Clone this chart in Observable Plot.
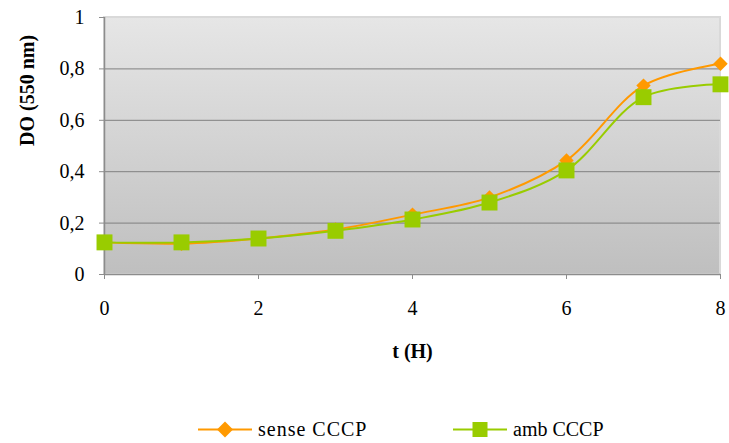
<!DOCTYPE html>
<html><head><meta charset="utf-8">
<script src="https://cdn.jsdelivr.net/npm/d3@7"></script>
<script src="https://cdn.jsdelivr.net/npm/@observablehq/plot@0.6"></script>
</head>
<body style="margin:0;background:#fff;font-family:'Times New Roman'">
<div id="chart"></div>
<div id="legend" style="position:relative;height:43px;width:729px;font-family:'Times New Roman'"></div>
<script>
const hours = [0, 1, 2, 3, 4, 5, 6, 7, 8];
const senseCCCP = [0.125, 0.12, 0.14, 0.175, 0.233, 0.30, 0.444, 0.735, 0.82];
const ambCCCP = [0.125, 0.125, 0.14, 0.17, 0.214, 0.28, 0.405, 0.69, 0.74];
const seriesNames = ["sense CCCP", "amb CCCP"];
const yTicks = [0, 0.2, 0.4, 0.6, 0.8, 1];
const xTicks = [0, 2, 4, 6, 8];
const yTitle = ["DO (550 nm)"];
const xTitle = ["t (H)"];

const FONT = "Times New Roman";
const colors = {"sense CCCP": "#ff9900", "amb CCCP": "#99cc00"};
const sense = hours.map((t, i) => ({t, v: senseCCCP[i], s: seriesNames[0]}));
const amb = hours.map((t, i) => ({t, v: ambCCCP[i], s: seriesNames[1]}));

const background = (index, scales, values, dims) => {
  const ns = "http://www.w3.org/2000/svg";
  const g = document.createElementNS(ns, "g");
  const defs = document.createElementNS(ns, "defs");
  const lg = document.createElementNS(ns, "linearGradient");
  lg.setAttribute("id", "bg"); lg.setAttribute("x1", "0"); lg.setAttribute("y1", "0");
  lg.setAttribute("x2", "0"); lg.setAttribute("y2", "1");
  [["0", "#e6e6e6"], ["1", "#bfbfbf"]].forEach(([o, c]) => {
    const s = document.createElementNS(ns, "stop");
    s.setAttribute("offset", o); s.setAttribute("stop-color", c); lg.appendChild(s);
  });
  defs.appendChild(lg); g.appendChild(defs);
  const r = document.createElementNS(ns, "rect");
  r.setAttribute("x", dims.marginLeft); r.setAttribute("y", dims.marginTop);
  r.setAttribute("width", dims.width - dims.marginLeft - dims.marginRight);
  r.setAttribute("height", dims.height - dims.marginTop - dims.marginBottom);
  r.setAttribute("fill", "url(#bg)");
  r.setAttribute("stroke", "#d9d9d9"); r.setAttribute("stroke-width", "2");
  g.appendChild(r);
  return g;
};

const plot = Plot.plot({
  width: 729, height: 400,
  marginLeft: 104, marginRight: 9, marginTop: 17, marginBottom: 126,
  style: {fontFamily: FONT, fontSize: "20px", color: "#000", background: "transparent"},
  x: {domain: [0, 8]},
  y: {domain: [0, 1]},
  marks: [
    background,
    Plot.gridY(yTicks.filter(d => d > 0 && d < 1), {stroke: "#808080", strokeOpacity: 1, strokeWidth: 1}),
    Plot.ruleY([0], {stroke: "#8c8c8c", strokeWidth: 1.5}),
    Plot.ruleX([0], {stroke: "#8c8c8c", strokeWidth: 1.5}),
    Plot.axisY({ticks: yTicks, tickSize: 5, tickPadding: 15, label: null, stroke: "#8c8c8c",
      tickFormat: d => d3.format("~g")(d).replace(".", ","), fontSize: 20, fontFamily: FONT}),
    Plot.axisX({ticks: xTicks, tickSize: 5, tickPadding: 21, label: null, stroke: "#8c8c8c",
      tickFormat: d => String(d), fontSize: 20, fontFamily: FONT}),
    Plot.line(sense, {x: "t", y: "v", stroke: colors["sense CCCP"], strokeWidth: 2, curve: "catmull-rom"}),
    Plot.dot(sense, {x: "t", y: "v", symbol: "diamond2", r: 6.5, fill: colors["sense CCCP"], stroke: "none"}),
    Plot.line(amb, {x: "t", y: "v", stroke: colors["amb CCCP"], strokeWidth: 2, curve: "catmull-rom"}),
    Plot.dot(amb, {x: "t", y: "v", symbol: "square", r: 9, fill: colors["amb CCCP"], stroke: "none"}),
    Plot.text(yTitle, {frameAnchor: "left", rotate: -90, dx: -77, fontWeight: "bold", fontSize: 20, fontFamily: FONT}),
    Plot.text(xTitle, {frameAnchor: "bottom", dy: 83, fontWeight: "bold", fontSize: 20, fontFamily: FONT})
  ]
});
plot.querySelectorAll("text").forEach(t => { t.style.fontFamily = FONT; t.setAttribute("font-family", FONT); });
document.getElementById("chart").appendChild(plot);

const legend = document.getElementById("legend");
const legendItems = [
  {name: seriesNames[0], left: 198, shape: "diamond"},
  {name: seriesNames[1], left: 453, shape: "square"}
];
legendItems.forEach(it => {
  const c = colors[it.name];
  const div = document.createElement("div");
  div.style.position = "absolute"; div.style.top = "0px"; div.style.left = it.left + "px";
  div.style.height = "43px"; div.style.display = "flex"; div.style.alignItems = "center";
  div.style.fontSize = "20px"; div.style.color = "#000"; div.style.fontFamily = FONT; div.style.whiteSpace = "nowrap";
  const mk = it.shape === "diamond"
    ? `<path d="M27,21.5 L35,29.5 L27,37.5 L19,29.5 Z" fill="${c}"/>`
    : `<rect x="19.5" y="22" width="15" height="15" fill="${c}"/>`;
  div.innerHTML = `<svg width="60" height="43" style="display:block"><line x1="0" x2="54" y1="29.5" y2="29.5" stroke="${c}" stroke-width="2"/>${mk}</svg>`;
  const span = document.createElement("span");
  span.style.marginTop = "15px";
  if (it.shape === "diamond") span.style.letterSpacing = "1px";
  span.textContent = it.name;
  div.appendChild(span);
  legend.appendChild(div);
});
</script></body></html>
